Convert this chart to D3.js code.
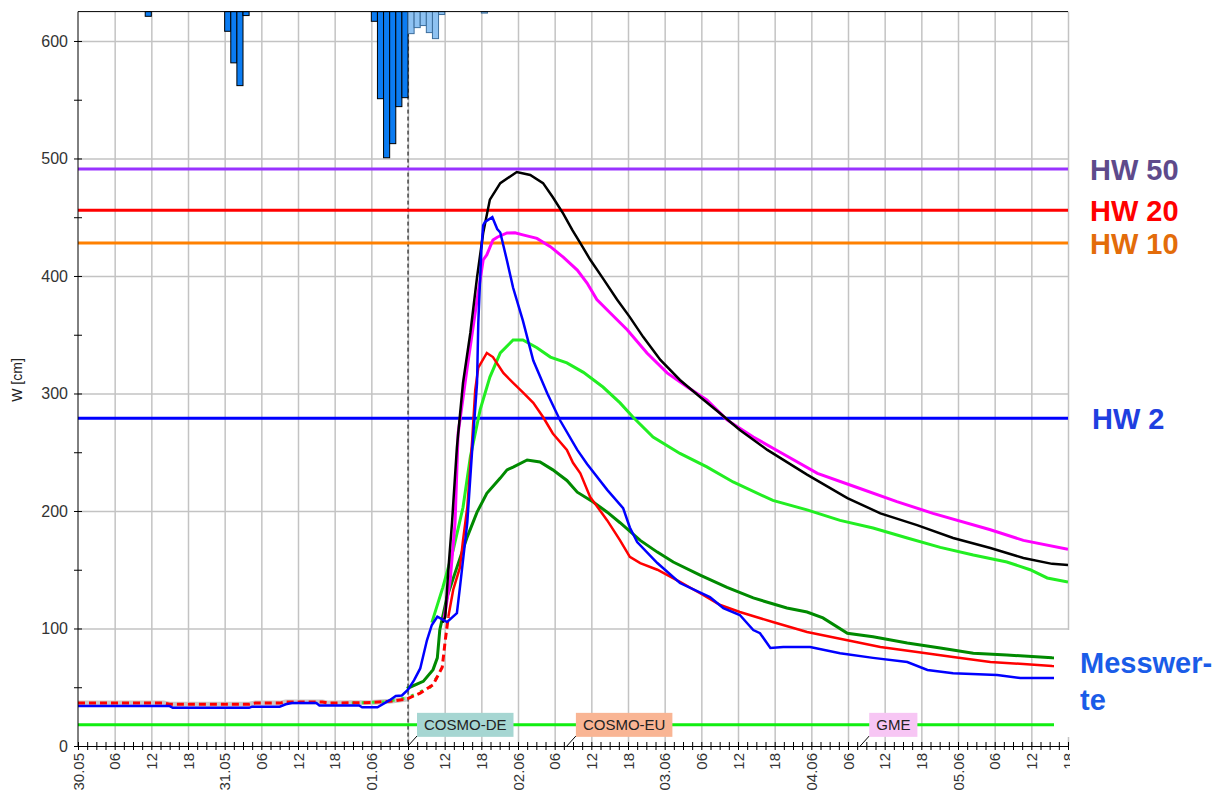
<!DOCTYPE html>
<html>
<head>
<meta charset="utf-8">
<script src="https://cdn.jsdelivr.net/npm/d3@7"></script>
<style>
  body { margin: 0; background: #fff; }
  svg { display: block; font-family: 'Liberation Sans', Arial, sans-serif; }
  .axis text { fill: #333; font-size: 15px; }
  .axis--y text { font-size: 16px; }
  .axis path, .axis line { stroke: #000; }
  .hw-label { font-weight: bold; font-size: 29px; }
</style>
</head>
<body>
<svg id="chart" width="1224" height="805"></svg>
<script>
// time axis: hours after 30.05. 00:00
const startTime = Date.UTC(2013, 4, 30, 0);
const spanHours = 162;
const dayLabels = ['30.05', '31.05', '01.06', '02.06', '03.06', '04.06', '05.06'];
const hourLabels = ['06', '12', '18'];
const levelTicks = [0, 50, 100, 150, 200, 250, 300, 350, 400, 450, 500, 550, 600];
const forecastStart = 54;

// hourly precipitation [hour, mm], observed and forecast
const rainObserved = [[11, 0.32], [24, 1.34], [25, 3.49], [26, 5.04], [27, 0.27],
  [48, 0.66], [49, 5.93], [50, 9.95], [51, 8.99], [52, 6.47], [53, 5.86]];
const rainForecast = [[54, 1.5], [55, 1.09], [56, 0.95], [57, 1.43], [58, 1.84], [59, 0.2], [66, 0.1]];

// flood marks
const hwNames = ['HW 50', 'HW 20', 'HW 10', 'HW 2'];
const hwLevels = [491, 456, 428, 279];

// weather model markers
const modelNames = ['COSMO-DE', 'COSMO-EU', 'GME'];
const modelHours = [54, 80, 128];
const modelBaseLevel = 18;

// water level series [hour, cm]
const messwerte = [[0, 34], [15, 34], [15.5, 32.5], [28, 32.5], [28.5, 33.5], [33, 33.5], [34, 35.5],
  [35, 36.5], [39, 36.5], [39.5, 34.5], [46, 34.5], [46.5, 33], [49, 33], [51, 39], [52, 42.5],
  [53, 43], [54, 48], [55, 56], [56, 66], [57.1, 90], [57.9, 103], [58.8, 110], [60.4, 105.5],
  [62, 113], [62.5, 135], [63, 158], [63.7, 190], [64.5, 252], [65.3, 309], [65.5, 360], [66, 422],
  [66.3, 443], [66.6, 446], [67.8, 450], [68.6, 440], [69.1, 437], [70.2, 413], [71.2, 390],
  [72.8, 362], [74.5, 328], [76.8, 300], [78.9, 277], [81.7, 252], [83.3, 240], [86.6, 218],
  [89.2, 202.5], [90.3, 186], [91.5, 173.6], [94.8, 155.7], [98.5, 138.7], [103.4, 126.8],
  [105.6, 117.4], [108.3, 111.5], [110.5, 98.7], [111.6, 96], [113.3, 83.4], [115.4, 84.3],
  [119.8, 84.3], [124.7, 79], [130.1, 75], [135.7, 71.5], [139, 64.7], [143.2, 62], [150.4, 60.4],
  [154.2, 57.9], [162, 57.9]];
const simulation = [[0, 36.5], [14, 36.5], [15, 35.5], [28, 35.5], [29, 36.5], [33, 36.5], [34, 37.5],
  [40, 37.5], [41, 36.5], [48, 37], [51, 38], [53.8, 40], [56, 45], [58.1, 52], [59.6, 67],
  [60.1, 90], [60.6, 110]];
const simulationLime = [[44.8, 36.6], [50, 37.5], [53.8, 41], [55.6, 45], [57.6, 50], [59.2, 62]];
const forecastRed = [[60.6, 110], [61.4, 133], [62.5, 152], [63, 175], [63.7, 203], [64.5, 260],
  [65, 303], [65.5, 322], [66.9, 334.5], [67.9, 331], [69.6, 317.5], [71.2, 309], [72.8, 301],
  [74.5, 292], [76.1, 280], [77.7, 266], [80, 252], [81, 241], [82.2, 232], [83.8, 212], [86.6, 192],
  [88.7, 175], [90.3, 161], [92, 155.7], [94.8, 150], [98.5, 139.6], [101.8, 130], [105.1, 120],
  [108.3, 114], [113.7, 105.5], [119.3, 97], [125.9, 90], [131.3, 84.3], [137.3, 80], [143.2, 75.7],
  [149.3, 71.5], [154.7, 69.8], [159.4, 68], [162, 67.5]];
const forecastDarkGreen = [[53.8, 49], [54.3, 50], [56.5, 55], [58.1, 65], [58.8, 75], [59.2, 98.7],
  [60.4, 127], [62, 152], [63.7, 178], [65.3, 199], [66.9, 215], [69.1, 228], [70.2, 235],
  [71.2, 237.4], [73.5, 243.4], [75.6, 241.7], [77.7, 235], [80, 226], [81.7, 216], [84.3, 207.7],
  [86.6, 199], [88.7, 190], [92, 175], [94.8, 165], [97.4, 156.6], [101.8, 145.5], [106.2, 135],
  [110.5, 126], [116, 117.4], [119.3, 114], [121.9, 109], [125.9, 96], [130.1, 93], [135.7, 87.7],
  [141.1, 83.4], [146.5, 79], [152, 77.4], [159.4, 75], [162, 74.5]];
const forecastLime = [[57.9, 105], [59.7, 135], [61.4, 167], [63, 203], [64.2, 246], [65.8, 286],
  [67.4, 314], [69.1, 334.5], [71.2, 345.5], [72.8, 345.5], [75.1, 339], [77.3, 331], [80, 326],
  [82.7, 318], [85.9, 305.5], [88.7, 292], [90.8, 280], [94.1, 263], [98.5, 249], [102.9, 237.5],
  [107.2, 224.7], [113.7, 209], [119.3, 201], [124.7, 192], [130.1, 185.5], [135.7, 177],
  [141.1, 169], [146.5, 162.5], [152, 156.6], [155.8, 150], [158.6, 143], [162, 139.5]];
const forecastMagenta = [[59.9, 108], [60.9, 141], [61.7, 190], [62.2, 266], [63.7, 322.5],
  [65.3, 379.6], [66.3, 413.6], [66.9, 418], [67.9, 430.6], [68.6, 433], [70.2, 436.6], [71.5, 436.8],
  [72.8, 435], [75.1, 432], [77.3, 425], [79.4, 416], [81.7, 405], [83.3, 394], [84.9, 380],
  [87.1, 368.5], [89.9, 354], [93.1, 334.5], [96.4, 317.5], [99.7, 305.5], [102.9, 294.5],
  [106.2, 277.5], [110.5, 263], [114.9, 250], [121, 232], [127.5, 220], [134, 208], [139.9, 198],
  [149.3, 184], [154.7, 175], [162, 167.5]];
const forecastBlack = [[59.7, 105], [60.1, 110], [60.6, 150], [61.2, 190], [62, 254], [63, 309],
  [64.2, 351.5], [65.3, 399], [66.3, 436.6], [67.4, 465], [69.1, 479], [71.8, 488.5], [74, 486],
  [76.1, 479], [77.7, 467], [79.4, 453], [80.9, 439], [82.2, 428], [83.8, 414], [85.9, 398],
  [88.2, 380], [90.3, 365], [92.5, 348], [95.3, 328.5], [98.5, 311.5], [101.8, 297], [105.1, 283],
  [108.3, 269], [112.8, 252], [119.3, 231], [125.9, 211], [131.3, 198], [137.3, 188], [143.2, 177],
  [149.3, 168.5], [154.7, 160], [159.4, 155], [162, 154]];

const hwLineColors = ['#9933ff', '#ff0000', '#ff8000', '#0000ff'];
const hwTextColors = ['#5e4a8b', '#ff0000', '#e36c0a', '#1f3fe0'];
const modelColors = ['#a6d6d2', '#f9b594', '#f7c6f4'];

const plot = { left: 78, right: 1068, top: 11.6, bottom: 746 };
const t = h => new Date(startTime + h * 36e5);
const hourOf = d => Math.round((d - startTime) / 36e5 * 10) / 10;

const x = d3.scaleUtc()
  .domain([t(0), t(spanHours)])
  .range([plot.left, plot.right]);
const y = d3.scaleLinear()
  .domain([0, 625])
  .range([plot.bottom, plot.top]);
// rain hangs from the top edge
const rain = d3.scaleLinear()
  .domain([0, 50])
  .range([plot.top, plot.bottom]);

const svg = d3.select('#chart');

svg.append('defs').append('clipPath').attr('id', 'plot-clip')
  .append('rect')
    .attr('x', plot.left).attr('y', plot.top)
    .attr('width', plot.right - plot.left).attr('height', plot.bottom - plot.top);
svg.select('defs').append('clipPath').attr('id', 'label-clip')
  .append('rect')
    .attr('x', 0).attr('y', -20).attr('width', plot.right + 2).attr('height', 100);

// grid
svg.append('g')
    .attr('transform', `translate(0,${plot.bottom})`)
    .call(d3.axisBottom(x)
      .tickValues(d3.range(6, spanHours + 1, 6).map(t))
      .tickSize(-(plot.bottom - plot.top))
      .tickFormat(''))
    .call(g => g.select('.domain').remove())
    .call(g => g.selectAll('line').attr('stroke', '#c3c3c3').attr('stroke-width', 1.5));

svg.append('g')
    .attr('transform', `translate(${plot.left},0)`)
    .call(d3.axisLeft(y)
      .tickValues(levelTicks.filter(v => v > 0 && v % 100 === 0))
      .tickSize(-(plot.right - plot.left))
      .tickFormat(''))
    .call(g => g.select('.domain').remove())
    .call(g => g.selectAll('line').attr('stroke', '#c3c3c3').attr('stroke-width', 1.5));

// forecast time
svg.append('line')
    .attr('x1', x(t(forecastStart))).attr('x2', x(t(forecastStart)))
    .attr('y1', plot.top).attr('y2', plot.bottom)
    .attr('stroke', '#000')
    .attr('stroke-dasharray', '4,3');

// precipitation
const barW = x(t(1)) - x(t(0));
svg.append('g').selectAll('rect')
  .data(rainObserved)
  .join('rect')
    .attr('x', d => x(t(d[0])))
    .attr('y', plot.top)
    .attr('width', barW)
    .attr('height', d => rain(d[1]) - plot.top)
    .attr('fill', '#0b7cf2')
    .attr('stroke', '#000');
svg.append('g').selectAll('rect')
  .data(rainForecast)
  .join('rect')
    .attr('x', d => x(t(d[0])))
    .attr('y', plot.top)
    .attr('width', barW)
    .attr('height', d => rain(d[1]) - plot.top)
    .attr('fill', '#8ec2f2')
    .attr('stroke', '#3b6d9c');

// flood marks
svg.append('g').selectAll('line')
  .data(hwLevels)
  .join('line')
    .attr('x1', plot.left).attr('x2', plot.right)
    .attr('y1', d => y(d)).attr('y2', d => y(d))
    .attr('stroke', (d, i) => hwLineColors[i])
    .attr('stroke-width', 3);

// series
const line = d3.line()
  .x(d => x(t(d[0])))
  .y(d => y(d[1]));

const series = svg.append('g').attr('clip-path', 'url(#plot-clip)');
function drawSeries(data, color, width, dash) {
  series.append('path')
      .datum(data)
      .attr('fill', 'none')
      .attr('stroke', color)
      .attr('stroke-width', width)
      .attr('stroke-dasharray', dash || null)
      .attr('d', line);
}
drawSeries(simulation.filter(d => d[0] <= forecastStart), '#c8c8c8', 5);
drawSeries(simulationLime, '#33ee33', 3, '3,7');
drawSeries(simulation, '#ff0000', 3, '7,4');
drawSeries(forecastDarkGreen, '#008a00', 3);
drawSeries(forecastLime, '#22ee22', 3);
drawSeries(forecastRed, '#ff0000', 2.5);
drawSeries(forecastMagenta, '#ff00ff', 3);
drawSeries(forecastBlack, '#000000', 2.5);
drawSeries(messwerte, '#0000ff', 2.5);

// weather model line and labels
svg.append('line')
    .attr('x1', plot.left).attr('x2', plot.right)
    .attr('y1', y(modelBaseLevel)).attr('y2', y(modelBaseLevel))
    .attr('stroke', '#11ee11')
    .attr('stroke-width', 3);

const models = svg.append('g').selectAll('g')
  .data(modelNames)
  .join('g')
    .attr('transform', (d, i) => `translate(${x(t(modelHours[i]))},${plot.bottom})`);
models.append('line')
    .attr('x1', 0).attr('y1', 0)
    .attr('x2', 9).attr('y2', -10)
    .attr('stroke', '#000');
models.append('text')
    .attr('x', 16)
    .attr('y', y(modelBaseLevel) - plot.bottom + 5.5)
    .attr('font-size', 15)
    .attr('fill', '#222')
    .text(d => d);
models.insert('rect', 'text')
    .attr('x', 9)
    .attr('y', y(modelBaseLevel) - plot.bottom - 12)
    .attr('height', 24)
    .attr('width', function () {
      return this.parentNode.querySelector('text').getComputedTextLength() + 14;
    })
    .attr('fill', (d, i) => modelColors[i]);

// axes
const xAxis = d3.axisBottom(x)
  .tickValues(d3.range(0, spanHours + 0.01, 1.5).map(t))
  .tickSize(4)
  .tickFormat(d => {
    const h = hourOf(d);
    if (h % 24 === 0) return dayLabels[h / 24];
    if (h % 6 === 0) return hourLabels[(h % 24) / 6 - 1];
    return '';
  });

svg.append('g')
    .attr('class', 'axis axis--x')
    .attr('transform', `translate(0,${plot.bottom})`)
    .attr('clip-path', 'url(#label-clip)')
    .call(xAxis)
    .call(g => g.selectAll('.tick line').attr('y1', -4))
    .call(g => g.selectAll('.tick text')
      .attr('transform', 'rotate(-90)')
      .attr('x', -7)
      .attr('y', 0)
      .attr('dy', '0.35em')
      .style('text-anchor', 'end'));

const yAxis = d3.axisLeft(y)
  .tickValues(levelTicks)
  .tickSize(4)
  .tickPadding(6)
  .tickFormat(v => (v % 100 === 0 ? v : ''));

svg.append('g')
    .attr('class', 'axis axis--y')
    .attr('transform', `translate(${plot.left},0)`)
    .call(yAxis)
    .call(g => g.selectAll('.tick line').attr('x1', 4))
    .call(g => g.select('.domain').attr('d', `M0,${plot.top}V${plot.bottom}`));

svg.append('line')
    .attr('x1', plot.left).attr('x2', plot.right)
    .attr('y1', plot.top).attr('y2', plot.top)
    .attr('stroke', '#000');

svg.append('text')
    .attr('transform', 'rotate(-90)')
    .attr('x', -380)
    .attr('y', 22)
    .attr('text-anchor', 'middle')
    .attr('font-size', 14)
    .attr('fill', '#222')
    .text('W [cm]');

// right-hand labels
svg.append('g').selectAll('text')
  .data(hwNames)
  .join('text')
    .attr('class', 'hw-label')
    .attr('x', (d, i) => (i === 3 ? 1092 : 1090))
    .attr('y', (d, i) => y(hwLevels[i]) + 11)
    .attr('fill', (d, i) => hwTextColors[i])
    .text(d => d);

svg.append('rect')
    .attr('x', 1054).attr('y', 630)
    .attr('width', 170).attr('height', 107)
    .attr('fill', '#fff');

svg.append('text')
    .attr('class', 'hw-label')
    .attr('x', 1080)
    .attr('fill', '#1a5ce8')
  .selectAll('tspan')
  .data(['Messwer-', 'te'])
  .join('tspan')
    .attr('x', 1080)
    .attr('y', (d, i) => 673 + i * 37)
    .text(d => d);
</script>
</body>
</html>
